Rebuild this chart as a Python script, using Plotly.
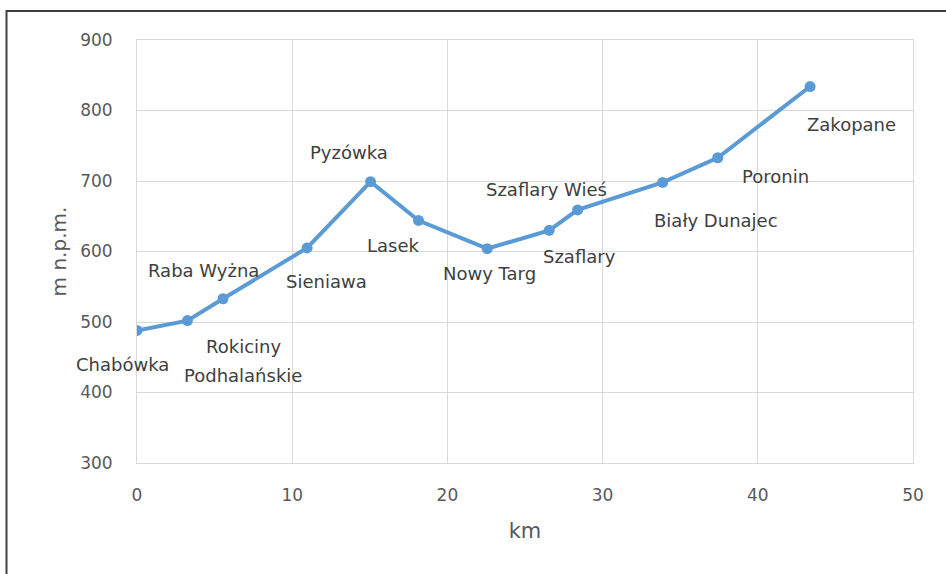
import plotly.graph_objects as go

# Data
km = [0, 3.25, 5.54, 10.96, 15.05, 18.14, 22.57, 26.56, 28.39, 33.87, 37.42, 43.37]
elev = [488, 502, 533, 605, 699, 644, 604, 630, 659, 698, 733, 834]
names = ["Chabówka", "Rokiciny\nPodhalańskie", "Raba Wyżna", "Sieniawa", "Pyzówka", "Lasek",
         "Nowy Targ", "Szaflary", "Szaflary Wieś", "Biały Dunajec", "Poronin", "Zakopane"]
x_ticks = [0, 10, 20, 30, 40, 50]
y_ticks = [300, 400, 500, 600, 700, 800, 900]

# label offsets in pixels (dx right, dy down) relative to each point
offsets = [(-15, 34), (56, 26), (-19, -28), (19, 34), (-22, -29), (-25, 25),
           (2, 25), (30, 26), (-31, -20), (53, 38), (58, 19), (41, 38)]

W, H = 946, 574
ML, MR, MT, MB = 137, 33, 40, 111
FONT = "DejaVu Sans"
LINE_COLOR = "#5B9BD5"
GRID = "#d9d9d9"

fig = go.Figure()
fig.add_trace(go.Scatter(
    x=km, y=elev, mode="lines+markers",
    line=dict(color=LINE_COLOR, width=4),
    marker=dict(color=LINE_COLOR, size=11),
    hoverinfo="skip", showlegend=False,
))

annotations = []
for xv, yv, name, (dx, dy) in zip(km, elev, names, offsets):
    lines = name.split("\n")
    for i, ln in enumerate(lines):
        annotations.append(dict(
            x=xv, y=yv, xref="x", yref="y", text=ln, showarrow=False,
            xanchor="center", yanchor="middle",
            xshift=dx, yshift=-(dy + 29 * i),
            font=dict(family=FONT, size=18, color="#404040"),
        ))

pw = W - ML - MR
ph = H - MT - MB
def px_to_paper_x(px):
    return (px - ML) / pw
def px_to_paper_y(py):
    return (H - MB - py) / ph

shapes = [
    dict(type="line", xref="paper", yref="paper",
         x0=px_to_paper_x(6), x1=px_to_paper_x(W + 5),
         y0=px_to_paper_y(11), y1=px_to_paper_y(11),
         line=dict(color="#404040", width=2)),
    dict(type="line", xref="paper", yref="paper",
         x0=px_to_paper_x(6.5), x1=px_to_paper_x(6.5),
         y0=px_to_paper_y(10), y1=px_to_paper_y(H + 5),
         line=dict(color="#404040", width=2)),
]

fig.update_layout(
    width=W, height=H,
    margin=dict(l=ML, r=MR, t=MT, b=MB),
    paper_bgcolor="white", plot_bgcolor="white",
    annotations=annotations, shapes=shapes,
    font=dict(family=FONT, color="#595959"),
    hovermode=False,
)
fig.update_xaxes(
    range=[0, 50], tickvals=x_ticks, ticktext=[str(v) for v in x_ticks],
    showgrid=True, gridcolor=GRID, gridwidth=1,
    showline=True, linecolor=GRID, linewidth=1, mirror=True,
    zeroline=False, ticks="", ticklabelstandoff=17,
    tickfont=dict(family=FONT, size=17, color="#595959"),
    title=dict(text="km", font=dict(family=FONT, size=21, color="#595959"), standoff=18),
)
fig.update_yaxes(
    range=[300, 900], tickvals=y_ticks, ticktext=[str(v) for v in y_ticks],
    showgrid=True, gridcolor=GRID, gridwidth=1,
    showline=True, linecolor=GRID, linewidth=1, mirror=True,
    zeroline=False, ticks="", ticklabelstandoff=20,
    tickfont=dict(family=FONT, size=17, color="#595959"),
    title=dict(text="m n.p.m.", font=dict(family=FONT, size=20, color="#595959"), standoff=8),
)

fig.write_html(
    "out.html",
    config={"displayModeBar": False, "staticPlot": True},
    post_script="document.body.style.margin='0';document.body.style.overflow='hidden';",
)
